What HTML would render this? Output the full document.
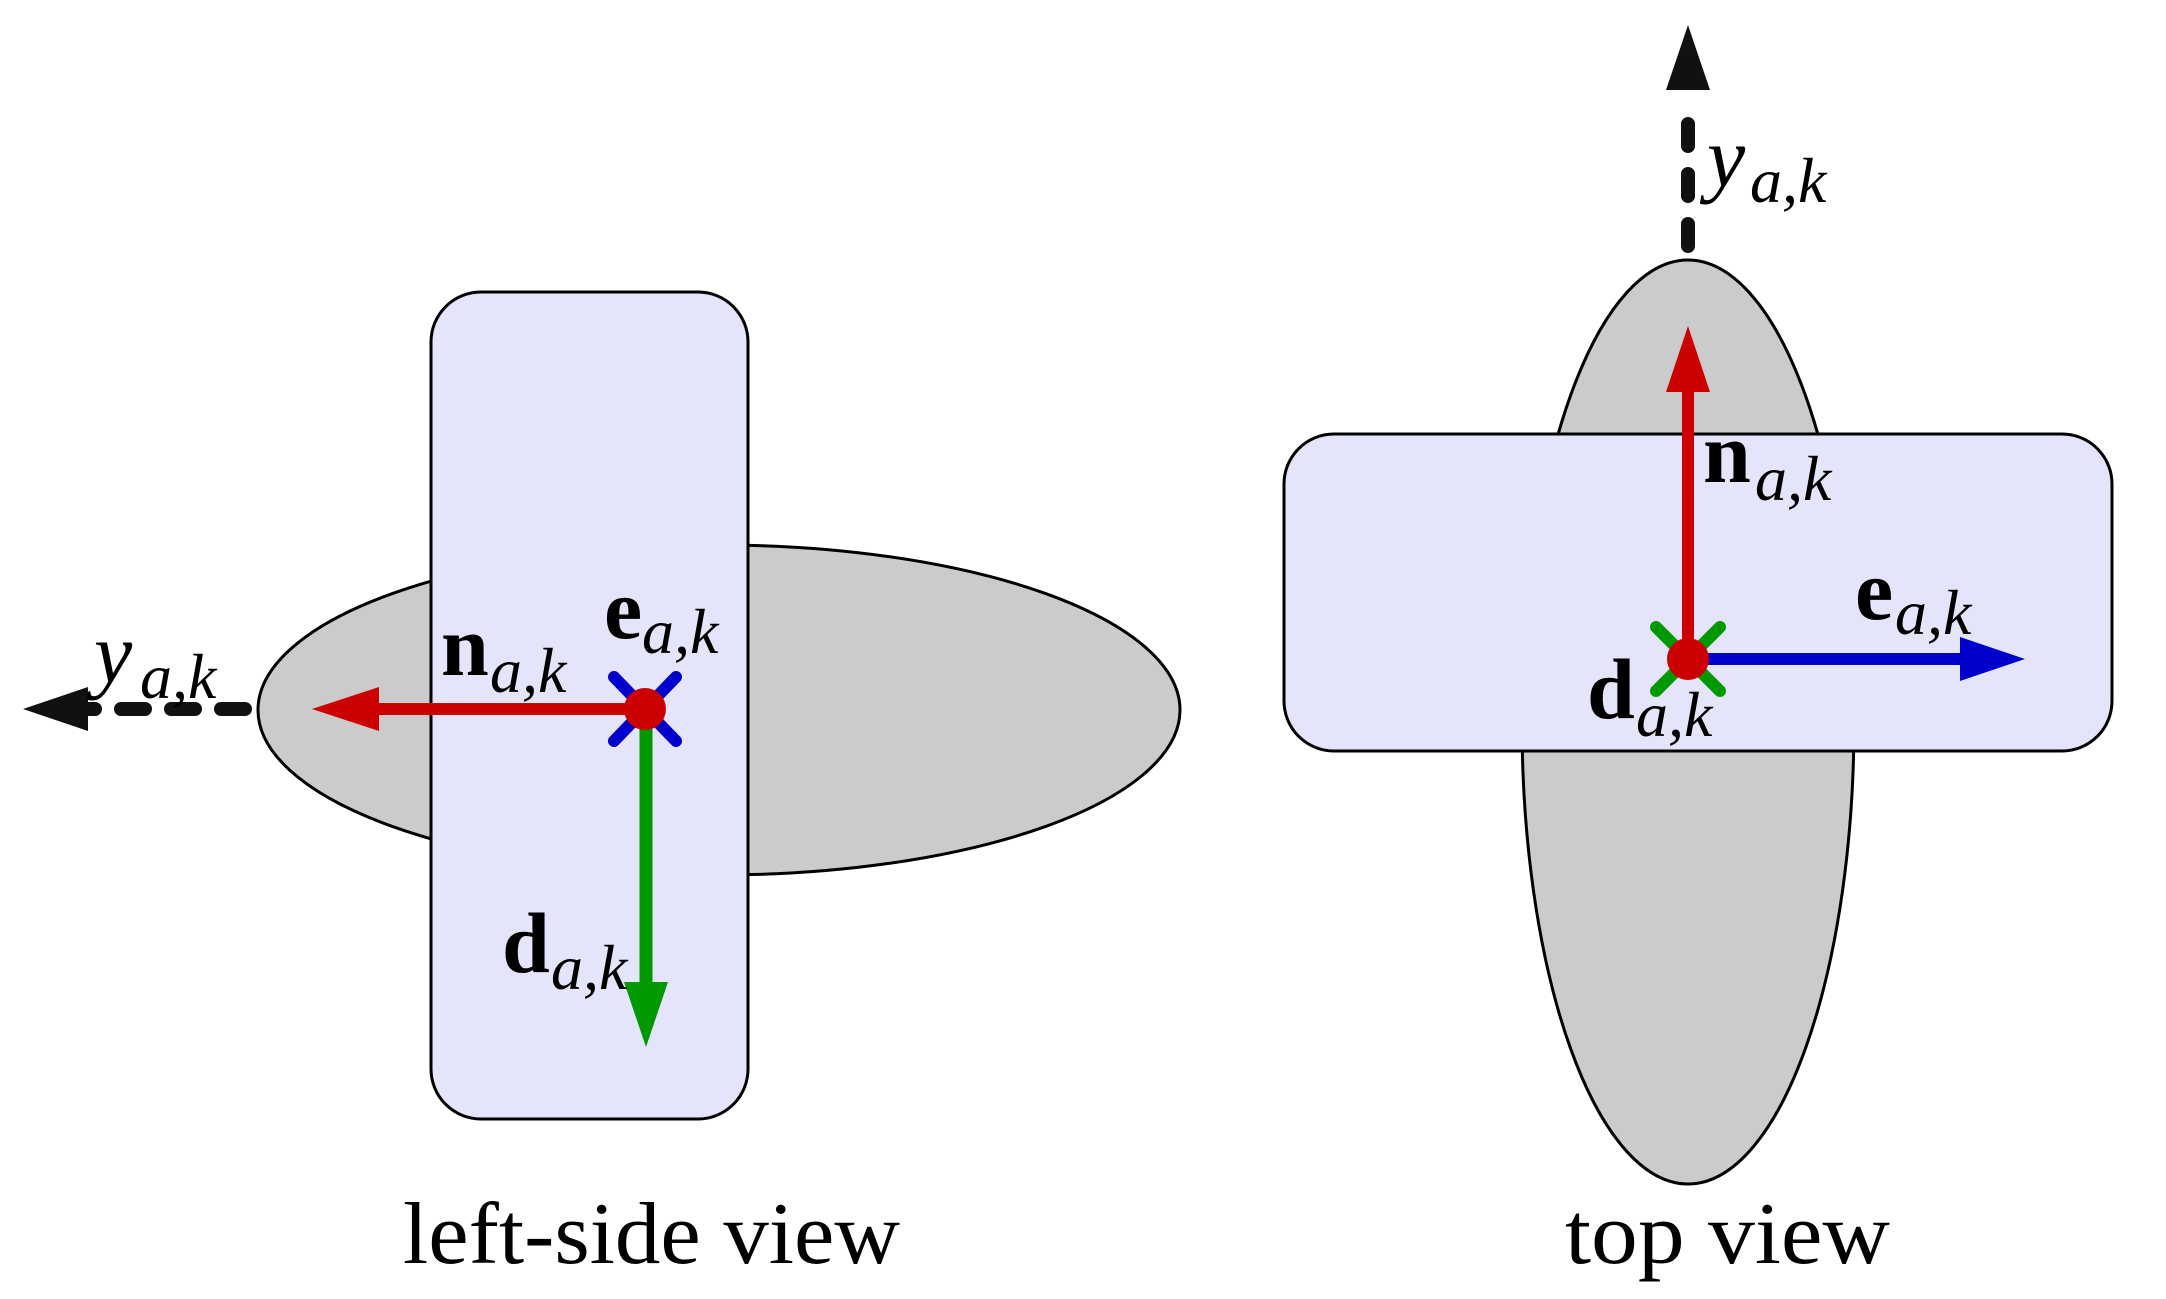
<!DOCTYPE html>
<html><head><meta charset="utf-8"><style>html,body{margin:0;padding:0;background:#fff}svg{display:block}</style></head>
<body>
<svg width="2166" height="1299" viewBox="0 0 2166 1299" xmlns="http://www.w3.org/2000/svg" font-family="'Liberation Serif', serif">
<!-- LEFT VIEW -->
<ellipse cx="719" cy="710" rx="461" ry="165" fill="#cbcbcb" stroke="#000" stroke-width="3"/>
<rect x="431" y="292" width="317" height="827" rx="50" ry="50" fill="#e4e4fa" stroke="#000" stroke-width="3"/>
<!-- dashed y arrow -->
<line x1="245" y1="709" x2="80" y2="709" stroke="#111" stroke-width="14" stroke-linecap="round" stroke-dasharray="24 26"/>
<polygon points="23,709 88,687 88,731" fill="#111"/>
<!-- red n arrow -->
<line x1="645" y1="709" x2="375" y2="709" stroke="#cc0000" stroke-width="12"/>
<polygon points="312,709 379,687 379,731" fill="#cc0000"/>
<!-- green d arrow -->
<line x1="646" y1="709" x2="646" y2="985" stroke="#009900" stroke-width="13"/>
<polygon points="646,1047 624,982 668,982" fill="#009900"/>
<!-- blue X -->
<line x1="614" y1="677" x2="676" y2="741" stroke="#0000cc" stroke-width="12" stroke-linecap="round"/>
<line x1="676" y1="677" x2="614" y2="741" stroke="#0000cc" stroke-width="12" stroke-linecap="round"/>
<circle cx="645" cy="709" r="21" fill="#cc0000"/>
<!-- labels left -->
<text x="94" y="682" font-size="86" font-style="italic">y</text>
<text x="140" y="698" font-size="64" font-style="italic">a,k</text>
<text x="441" y="675" font-size="86" font-weight="bold">n</text>
<text x="490" y="692" font-size="64" font-style="italic">a,k</text>
<text x="604" y="638" font-size="86" font-weight="bold">e</text>
<text x="642" y="653" font-size="64" font-style="italic">a,k</text>
<text x="502" y="972" font-size="86" font-weight="bold">d</text>
<text x="551" y="989" font-size="64" font-style="italic">a,k</text>
<text x="403" y="1263" font-size="88" textLength="497" lengthAdjust="spacingAndGlyphs">left-side view</text>

<!-- TOP VIEW -->
<ellipse cx="1688" cy="722" rx="166" ry="462" fill="#cbcbcb" stroke="#000" stroke-width="3"/>
<rect x="1284" y="434" width="828" height="317" rx="50" ry="50" fill="#e4e4fa" stroke="#000" stroke-width="3"/>
<!-- dashed y arrow up -->
<line x1="1688" y1="246" x2="1688" y2="97" stroke="#111" stroke-width="14" stroke-linecap="round" stroke-dasharray="22 28"/>
<polygon points="1688,25 1666,90 1710,90" fill="#111"/>
<!-- red n arrow up -->
<line x1="1688" y1="659" x2="1688" y2="388" stroke="#cc0000" stroke-width="12"/>
<polygon points="1688,326 1666,392 1710,392" fill="#cc0000"/>
<!-- green X -->
<line x1="1656" y1="627" x2="1720" y2="691" stroke="#009900" stroke-width="12" stroke-linecap="round"/>
<line x1="1720" y1="627" x2="1656" y2="691" stroke="#009900" stroke-width="12" stroke-linecap="round"/>
<!-- blue e arrow -->
<line x1="1688" y1="659" x2="1964" y2="659" stroke="#0000cc" stroke-width="12"/>
<polygon points="2025,659 1960,637 1960,681" fill="#0000cc"/>
<circle cx="1688" cy="659" r="21" fill="#cc0000"/>
<!-- labels top -->
<text x="1707" y="186" font-size="86" font-style="italic">y</text>
<text x="1750" y="202" font-size="64" font-style="italic">a,k</text>
<text x="1703" y="482" font-size="86" font-weight="bold">n</text>
<text x="1755" y="500" font-size="64" font-style="italic">a,k</text>
<text x="1855" y="619" font-size="86" font-weight="bold">e</text>
<text x="1895" y="634" font-size="64" font-style="italic">a,k</text>
<text x="1587" y="718" font-size="86" font-weight="bold">d</text>
<text x="1636" y="736" font-size="64" font-style="italic">a,k</text>
<text x="1565" y="1263" font-size="88" textLength="325" lengthAdjust="spacingAndGlyphs">top view</text>
</svg>
</body></html>
